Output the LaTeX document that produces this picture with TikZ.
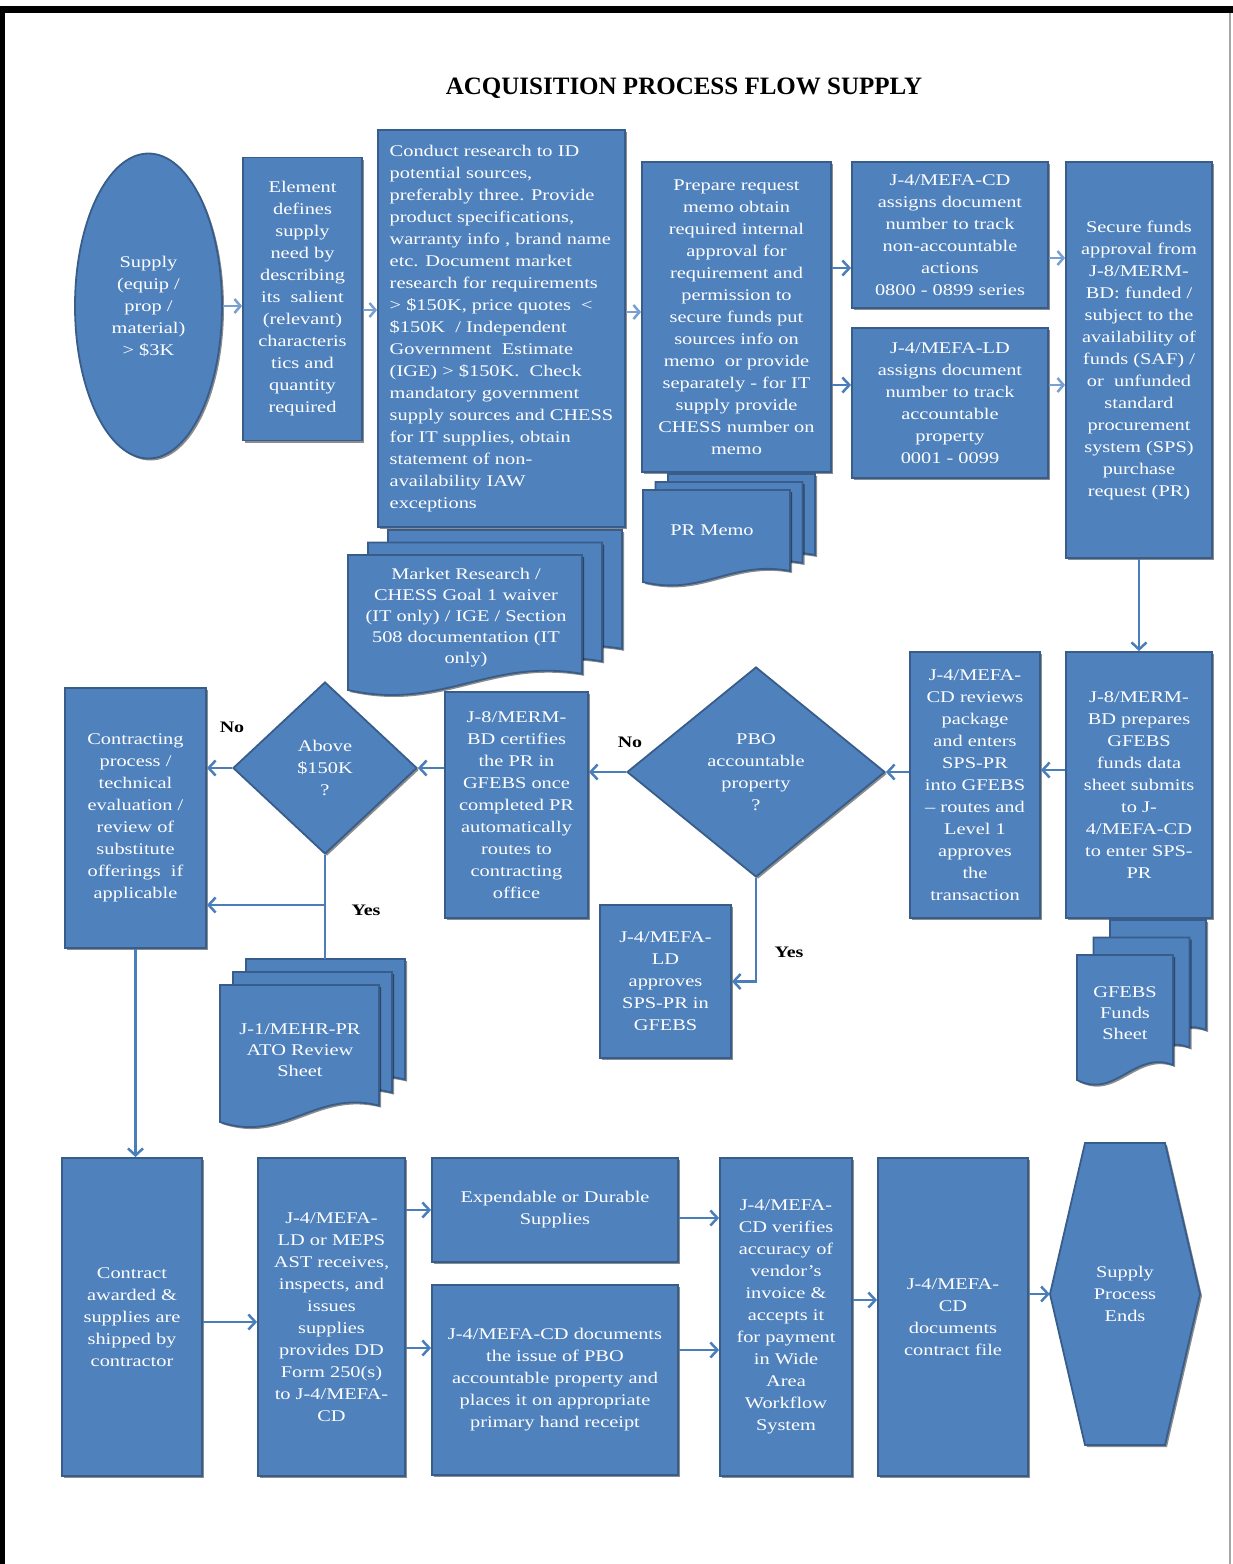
\documentclass[tikz,border=0pt]{standalone}
\usepackage{fontspec}
\setmainfont{Liberation Serif}
\newfontfamily\bxfont{Liberation Serif}[FakeStretch=1.25]
\usetikzlibrary{shapes.geometric,shadows,arrows.meta}
\definecolor{bfill}{RGB}{79,129,189}
\definecolor{bline}{RGB}{56,93,138}
\definecolor{arrcol}{RGB}{74,126,187}
\definecolor{harrcol}{RGB}{120,160,210}
\newcommand\mdoc[6]{%
 \pgfmathsetmacro\dxa{#1+#3}\pgfmathsetmacro\dyb{#2+#4}\pgfmathsetmacro\dam{0.12*#4}%
 \foreach \k in {2,1,0}{%
  \filldraw[docpage, shift={(\k*#5,\k*(#6))}] (#1,#2) -- (\dxa,#2) -- (\dxa,\dyb-\dam)
   .. controls (#1+0.6*#3,\dyb-2*\dam) and (#1+0.4*#3,\dyb+1.3*\dam) .. (#1,\dyb) -- cycle;}%
}
\begin{document}
\begin{tikzpicture}[x=1pt,y=-1pt,
  shd/.style={drop shadow={shadow xshift=2pt,shadow yshift=-2pt,opacity=.45,fill=black}},
  box/.style={draw=bline,line width=1.8pt,fill=bfill,text=white,align=center,inner sep=2pt,
     font=\bxfont\fontsize{16.3}{22}\selectfont,shd},
  docpage/.style={draw=bline,line width=1.8pt,fill=bfill,shd},
  doctext/.style={text=white,align=center,font=\bxfont\fontsize{16.3}{21}\selectfont},
  lbl/.style={text=black,font=\bxfont\bfseries\fontsize{16}{20}\selectfont},
  arr/.style={draw=arrcol,line width=2.5pt,-{Straight Barb[length=7pt,width=15pt,line width=2.5pt]}},
  ln/.style={draw=arrcol,line width=2.5pt},
  harr/.style={draw=harrcol,line width=2.5pt,-{Straight Barb[length=6pt,width=14pt,line width=2.5pt]}}
]
\useasboundingbox (0,0) rectangle (1233,1564);
\fill[white] (0,0) rectangle (1233,1564);
% frame
\fill[black] (0,6) rectangle (1233,13);
\fill[black] (0,6) rectangle (5,1564);
\draw[gray!70,line width=1.2pt] (1230,13) -- (1230,1564);

\node[font=\fontsize{25}{30}\selectfont\bfseries] (title) at (684,88) {ACQUISITION PROCESS FLOW SUPPLY};

% ---------- row 1 ----------
\node[box,ellipse,minimum width=147pt,minimum height=305pt] (sup) at (148.5,306)
  {Supply\\(equip /\\prop /\\material)\\> \$3K};
\node[box,minimum width=119pt,minimum height=283pt] (elem) at (302.5,299)
  {Element\\defines\\supply\\need by\\describing\\its~ salient\\(relevant)\\characteris\\tics and\\quantity\\required};
\node[box,align=left,minimum width=247pt,minimum height=397pt] (cond) at (501.5,328.5)
  {Conduct research to ID\\potential sources,\\preferably three. Provide\\product specifications,\\warranty info , brand name\\etc. Document market\\research for requirements\\> \$150K, price quotes~ <\\\$150K~ / Independent\\Government~ Estimate\\(IGE) > \$150K.~ Check\\mandatory government\\supply sources and CHESS\\for IT supplies, obtain\\statement of non-\\availability IAW\\exceptions};
\node[box,minimum width=189pt,minimum height=310pt] (prep) at (736.5,317)
  {Prepare request\\memo obtain\\required internal\\approval for\\requirement and\\permission to\\secure funds put\\sources info on\\memo~ or provide\\separately - for IT\\supply provide\\CHESS number on\\memo};
\node[box,minimum width=196pt,minimum height=146pt] (cd) at (950,235)
  {J-4/MEFA-CD\\assigns document\\number to track\\non-accountable\\actions\\0800 - 0899 series};
\node[box,minimum width=196pt,minimum height=150pt] (ld) at (950,403)
  {J-4/MEFA-LD\\assigns document\\number to track\\accountable\\property\\0001 - 0099};
\node[box,minimum width=146pt,minimum height=396pt] (sec) at (1139,360)
  {Secure funds\\approval from\\J-8/MERM-\\BD: funded /\\subject to the\\availability of\\funds (SAF) /\\or~ unfunded\\standard\\procurement\\system (SPS)\\purchase\\request (PR)};

% documents row 1
\mdoc{348}{555}{234}{135}{20}{-12.5}
\node[doctext] (mktdoc) at (466,618) {Market Research /\\CHESS Goal 1 waiver\\(IT only) / IGE / Section\\508 documentation (IT\\only)};
\mdoc{643}{490}{147}{92}{12.5}{-8}
\node[doctext] (prdoc) at (712,530) {PR Memo};

% ---------- row 2 ----------
\node[box,minimum width=146pt,minimum height=266pt] (prepgf) at (1139,785)
  {J-8/MERM-\\BD prepares\\GFEBS\\funds data\\sheet submits\\to J-\\4/MEFA-CD\\to enter SPS-\\PR};
\mdoc{1077}{955}{96}{125}{16.5}{-17.5}
\node[doctext] (gfdoc) at (1125,1013) {GFEBS\\Funds\\Sheet};
\node[box,minimum width=130pt,minimum height=266pt] (rev) at (975,785)
  {J-4/MEFA-\\CD reviews\\package\\and enters\\SPS-PR\\into GFEBS\\– routes and\\Level 1\\approves\\the\\transaction};
\node[box,diamond,aspect=1.2,inner sep=0pt,minimum width=258pt,minimum height=210pt] (pbo) at (756,772)
  {PBO\\accountable\\property\\?};
\node[box,minimum width=131pt,minimum height=153pt] (appr) at (665.5,981.5)
  {J-4/MEFA-\\LD\\approves\\SPS-PR in\\GFEBS};
\node[box,minimum width=143pt,minimum height=226pt] (cert) at (516.5,805)
  {J-8/MERM-\\BD certifies\\the PR in\\GFEBS once\\completed PR\\automatically\\routes to\\contracting\\office};
\node[box,diamond,aspect=1.07,inner sep=0pt,minimum width=184pt,minimum height=172pt] (above) at (325,768)
  {Above\\\$150K\\?};
\node[box,minimum width=141pt,minimum height=260pt] (contr) at (135.5,818)
  {Contracting\\process /\\technical\\evaluation /\\review of\\substitute\\offerings~ if\\applicable};
\mdoc{220}{985}{159}{137}{13}{-13}
\node[doctext] (j1doc) at (300,1050) {J-1/MEHR-PR\\ATO Review\\Sheet};

\node[lbl] (no1) at (630,742) {No};
\node[lbl] (no2) at (232,727) {No};
\node[lbl] (yes1) at (789,952) {Yes};
\node[lbl] (yes2) at (366,910) {Yes};

% ---------- row 3 ----------
\node[box,minimum width=140pt,minimum height=318pt] (award) at (132,1317)
  {Contract\\awarded \&\\supplies are\\shipped by\\contractor};
\node[box,minimum width=147pt,minimum height=318pt] (ldm) at (331.5,1317)
  {J-4/MEFA-\\LD or MEPS\\AST receives,\\inspects, and\\issues\\supplies\\provides DD\\Form 250(s)\\to J-4/MEFA-\\CD};
\node[box,minimum width=246pt,minimum height=104pt] (exp) at (555,1210)
  {Expendable or Durable\\Supplies};
\node[box,minimum width=246pt,minimum height=190pt] (cddoc) at (555,1380)
  {J-4/MEFA-CD documents\\the issue of PBO\\accountable property and\\places it on appropriate\\primary hand receipt};
\node[box,minimum width=132pt,minimum height=318pt] (ver) at (786,1317)
  {J-4/MEFA-\\CD verifies\\accuracy of\\vendor’s\\invoice \&\\accepts it\\for payment\\in Wide\\Area\\Workflow\\System};
\node[box,minimum width=150pt,minimum height=318pt] (cfile) at (953,1317)
  {J-4/MEFA-\\CD\\documents\\contract file};
\filldraw[docpage] (1085,1143) -- (1165,1143) -- (1200,1294) -- (1165,1445) -- (1085,1445) -- (1050,1294) -- cycle;
\node[text=white,align=center,font=\bxfont\fontsize{16.3}{22}\selectfont,minimum width=150pt,minimum height=302pt] (hex) at (1125,1294)
  {Supply\\Process\\Ends};

% ---------- connectors ----------
\draw[harr] (sup.east) -- (sup.east -| elem.west);
\draw[harr] (elem.east |- 0,310) -- (cond.west |- 0,310);
\draw[harr] (cond.east |- 0,312) -- (prep.west |- 0,312);
\draw[arr] (prep.east |- 0,268) -- (cd.west |- 0,268);
\draw[arr] (prep.east |- 0,385) -- (ld.west |- 0,385);
\draw[harr] (cd.east |- 0,258) -- (sec.west |- 0,258);
\draw[harr] (ld.east |- 0,385) -- (sec.west |- 0,385);
\draw[arr] (sec.south) -- (prepgf.north);
\draw[arr] (prepgf.west |- 0,770) -- (rev.east |- 0,770);
\draw[arr] (rev.west |- pbo) -- (pbo.east);
\draw[arr] (pbo.west) -- (pbo.west -| cert.east);
\draw[arr] (pbo.south) -- (pbo.south |- appr) -- (appr.east);
\draw[arr] (cert.west |- above) -- (above.east);
\draw[arr] (above.west) -- (above.west -| contr.east);
\coordinate (j1top) at (325,959);
\draw[ln] (above.south) -- (j1top);
\draw[arr] (above.south |- 0,905) -- (contr.east |- 0,905);
\draw[arr] (contr.south) -- (contr.south |- award.north);
\draw[arr] (award.east |- 0,1322) -- (ldm.west |- 0,1322);
\draw[arr] (ldm.east |- 0,1210) -- (exp.west |- 0,1210);
\draw[arr] (ldm.east |- 0,1348) -- (cddoc.west |- 0,1348);
\draw[arr] (exp.east |- 0,1218) -- (ver.west |- 0,1218);
\draw[arr] (cddoc.east |- 0,1350) -- (ver.west |- 0,1350);
\draw[arr] (ver.east |- 0,1300) -- (cfile.west |- 0,1300);
\draw[arr] (cfile.east |- hex) -- (hex.west);
\end{tikzpicture}
\end{document}
